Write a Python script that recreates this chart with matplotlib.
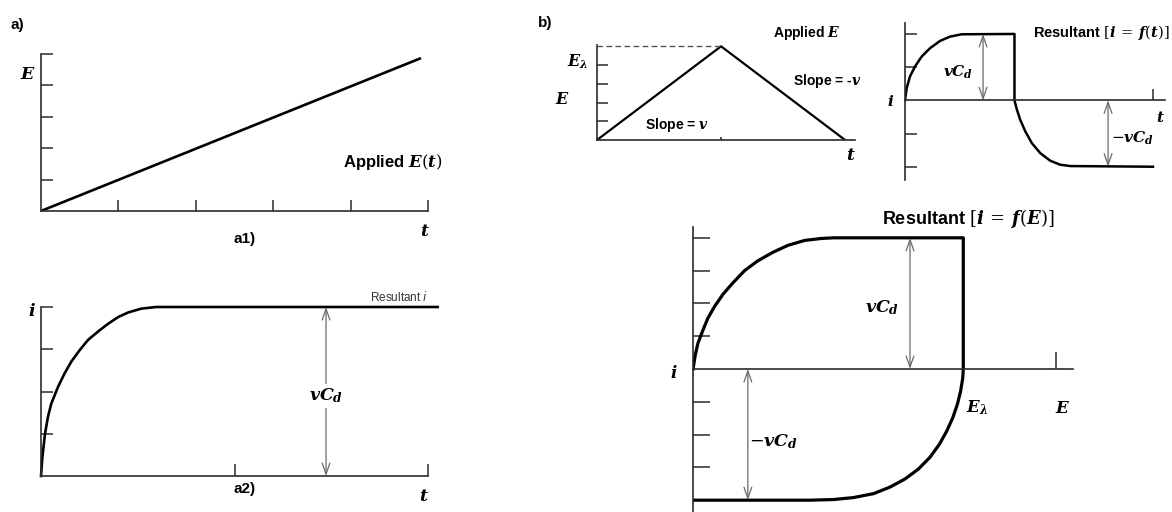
import matplotlib.pyplot as plt

W, H = 1172, 512

# a1) applied linear potential ramp
t_ramp = [0, 4.91]
E_ramp = [0, 4.87]

# a2) current response to the ramp (plateau = vCd)
t_a2 = [0, 0.0067, 0.0207, 0.036, 0.053, 0.088, 0.122, 0.157, 0.200, 0.243,
        0.295, 0.346, 0.398, 0.450, 0.517, 0.594, 2.05]
i_a2 = [0, 0.43, 1.0, 1.4, 1.71, 2.11, 2.43, 2.71, 2.98, 3.22,
        3.42, 3.60, 3.76, 3.87, 3.96, 4.0, 4.0]

# b) triangular potential sweep
t_tri = [0, 1, 2]
E_tri = [0, 5, 0]
E_lambda = 5

# b) current vs time
t_b = [0, 0.031, 0.091, 0.183, 0.305, 0.457, 0.640, 0.823, 1.036, 2.0, 2.0,
       2.044, 2.104, 2.196, 2.318, 2.471, 2.654, 2.836, 3.019, 4.53]
i_b = [0, 0.37, 0.72, 1.02, 1.32, 1.57, 1.79, 1.92, 1.99, 2.0, 0,
       -0.28, -0.58, -0.93, -1.29, -1.59, -1.82, -1.94, -1.98, -2.0]

# b) current vs potential, forward and reverse scans
E_fwd = [0, 0.0085, 0.018, 0.037, 0.055, 0.080, 0.111, 0.148, 0.191, 0.240,
         0.296, 0.351, 0.413, 0.474, 0.52, 1.0]
i_fwd = [0, 0.43, 0.78, 1.19, 1.55, 1.91, 2.28, 2.63, 3.0, 3.30,
         3.56, 3.77, 3.92, 3.98, 4.0, 4.0]
E_rev = [1.0, 0.998, 0.990, 0.978, 0.961, 0.939, 0.912, 0.877, 0.834, 0.785,
         0.729, 0.668, 0.594, 0.519, 0.433, 0]
i_rev = [0, -0.28, -0.68, -1.08, -1.49, -1.89, -2.29, -2.69, -3.05, -3.35,
         -3.60, -3.80, -3.92, -3.98, -4.0, -4.0]

plt.rcParams['font.family'] = 'Liberation Sans'
plt.rcParams['mathtext.fontset'] = 'custom'
plt.rcParams['mathtext.it'] = 'DejaVu Serif:italic:bold'
plt.rcParams['mathtext.rm'] = 'DejaVu Serif'
plt.rcParams['mathtext.bf'] = 'DejaVu Serif:bold'

AX_COLOR = '#2b2b2b'
ARROW_COLOR = '#6a6a6a'

fig = plt.figure(figsize=(W / 100, H / 100), dpi=100)


def panel(x0, y0, x1, y1, xlim, ylim, xticks, yticks, xtick_len, ytick_len, zero_axis=False):
    ax = fig.add_axes([x0 / W, 1 - y1 / H, (x1 - x0) / W, (y1 - y0) / H])
    ax.set_xlim(*xlim)
    ax.set_ylim(*ylim)
    ax.patch.set_visible(False)
    for side in ('top', 'right'):
        ax.spines[side].set_visible(False)
    for side in ('left', 'bottom'):
        ax.spines[side].set_color(AX_COLOR)
        ax.spines[side].set_linewidth(1.2)
    if zero_axis:
        ax.spines['bottom'].set_position(('data', 0))
    ax.set_xticks(xticks)
    ax.set_yticks(yticks)
    ax.set_xticklabels([])
    ax.set_yticklabels([])
    ax.tick_params(axis='x', direction='in', length=xtick_len * 0.72, width=1.1, color=AX_COLOR)
    ax.tick_params(axis='y', direction='in', length=ytick_len * 0.72, width=1.1, color=AX_COLOR)
    return ax


def span_arrow(ax, x, y0, y1):
    ax.annotate('', xy=(x, y1), xytext=(x, y0),
                arrowprops=dict(arrowstyle='<->,head_length=0.8,head_width=0.28',
                                color=ARROW_COLOR, lw=0.9, shrinkA=0, shrinkB=0))


def ftext(x, y, s, **kw):
    kw.setdefault('ha', 'center')
    kw.setdefault('va', 'center')
    return fig.text(x / W, 1 - y / H, s, **kw)


# ---- a1) applied E(t)
ax1 = panel(41, 54, 428, 211, (0, 5), (0, 5), [1, 2, 3, 4, 5], [1, 2, 3, 4, 5], 11, 12)
ax1.plot(t_ramp, E_ramp, color='black', lw=1.9, solid_capstyle='butt')

# ---- a2) resultant i
ax2 = panel(41, 307, 428, 476, (0, 2), (0, 4), [1, 2], [1, 2, 3, 4], 12, 12)
ax2.plot(t_a2, i_a2, color='black', lw=1.9, clip_on=False)
span_arrow(ax2, 1.473, 0, 4)
ax2.text(1.473, 1.9, '$vC_d$', fontsize=12.5, ha='center', va='center',
         bbox=dict(fc='white', ec='none', pad=2))

# ---- b) applied triangular E
ax3 = panel(597, 45, 855, 140, (0, 2.08), (0, 5.07), [1], [1, 2, 3, 4], 3, 11)
ax3.plot(t_tri, E_tri, color='black', lw=1.6)
ax3.plot([0, 1], [E_lambda, E_lambda], color='#555555', lw=1.0, ls=(0, (4, 2.5)))

# ---- b) resultant i = f(t)
ax4 = panel(905, 23, 1165, 180, (0, 4.75), (-2.40, 2.33), [4.53], [-2, -1, 1, 2], 11, 12,
            zero_axis=True)
ax4.plot(t_b, i_b, color='black', lw=1.8)
span_arrow(ax4, 1.426, 0, 2)
span_arrow(ax4, 3.71, 0, -2)

# ---- b) resultant i = f(E)
ax5 = panel(693, 227, 1073, 512, (0, 1.406), (-4.36, 4.33), [1.343],
            [-4, -3, -2, -1, 1, 2, 3, 4], 17, 17, zero_axis=True)
ax5.plot(E_fwd + E_rev, i_fwd + i_rev, color='black', lw=2.3)
span_arrow(ax5, 0.803, 0, 4)
span_arrow(ax5, 0.203, 0, -4)

# ---- labels
ftext(17, 25, 'a)', fontsize=11, fontweight='bold')
ftext(545, 23, 'b)', fontsize=11, fontweight='bold')

ftext(28, 74, '$E$', fontsize=12.5)
ftext(425, 231, '$t$', fontsize=12.5)
ftext(245, 239, 'a1)', fontsize=11, fontweight='bold')
ftext(443, 162, 'Applied $E(t)$', fontsize=12, fontweight='bold', ha='right')

ftext(32, 311, '$i$', fontsize=12.5)
ftext(428, 297, 'Resultant $i$', fontsize=8.5, color='#333333', ha='right',
      math_fontfamily='dejavusans')
ftext(245, 489, 'a2)', fontsize=11, fontweight='bold')
ftext(424, 496, '$t$', fontsize=12.5)

ftext(578, 62, r'$E_\lambda$', fontsize=11.5)
ftext(562, 99, '$E$', fontsize=11.5)
ftext(677, 125, 'Slope = $v$', fontsize=10, fontweight='bold')
ftext(827, 81, 'Slope = -$v$', fontsize=10, fontweight='bold')
ftext(807, 33, 'Applied $E$', fontsize=10, fontweight='bold')
ftext(851, 155, '$t$', fontsize=12.5)

ftext(891, 101, '$i$', fontsize=11)
ftext(1160, 117, '$t$', fontsize=11)
ftext(1170, 33, r'Resultant $[i\,=\,f(t)]$', fontsize=10.5, fontweight='bold', ha='right')
ftext(958, 72, '$vC_d$', fontsize=11)
ftext(1132, 138, '$-vC_d$', fontsize=11)

ftext(968, 218, r'Resultant $[i\,=\,f(E)]$', fontsize=13, fontweight='bold')
ftext(674, 372, '$i$', fontsize=12)
ftext(977, 408, r'$E_\lambda$', fontsize=12)
ftext(1063, 408, '$E$', fontsize=12)
ftext(882, 308, '$vC_d$', fontsize=12.5)
ftext(773, 442, '$-vC_d$', fontsize=12.5)

fig.savefig('out.png', dpi=100)
